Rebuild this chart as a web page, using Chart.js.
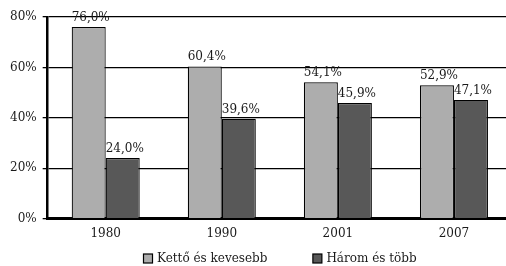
<!DOCTYPE html>
<html><head><meta charset="utf-8">
<script src="https://cdn.jsdelivr.net/npm/chart.js@4/dist/chart.umd.min.js"></script>
<style>html,body{margin:0;padding:0;background:#fff;overflow:hidden;width:506px;height:266px}#w{width:512px;height:266px}</style>
</head><body><div id="w"><canvas id="c"></canvas></div>
<script>
const categories = ['1980', '1990', '2001', '2007'];
const ketto = [76.0, 60.4, 54.1, 52.9];
const harom = [24.0, 39.6, 45.9, 47.1];
const seriesNames = ['Kettő és kevesebb', 'Három és több'];
const yTicks = [0, 20, 40, 60, 80];

const FONT = 'DejaVu Serif';
const TXT = '#1a1a1a';
Chart.defaults.font.family = FONT;
Chart.defaults.font.size = 12;
Chart.defaults.color = TXT;

const fmt = v => v.toFixed(1).replace('.', ',') + '%';

const labelPlugin = {
  id: 'barLabels',
  afterDatasetsDraw(chart) {
    const ctx = chart.ctx;
    ctx.save();
    ctx.font = '12px "' + FONT + '"';
    ctx.fillStyle = TXT;
    ctx.textAlign = 'center';
    ctx.textBaseline = 'alphabetic';
    chart.data.datasets.forEach((ds, i) => {
      chart.getDatasetMeta(i).data.forEach((bar, j) => {
        ctx.fillText(fmt(ds.data[j]), bar.x + 2, bar.y - 6);
      });
    });
    ctx.restore();
  }
};

const legendPlugin = {
  id: 'customLegend',
  afterDraw(chart) {
    const ctx = chart.ctx;
    const area = chart.chartArea;
    const box = 9, gapText = 5, gapItem = 45;
    ctx.save();
    ctx.font = '12px "' + FONT + '"';
    const items = chart.data.datasets.map(ds => ({ text: ds.label, color: ds.backgroundColor, w: ctx.measureText(ds.label).width }));
    let total = 0;
    items.forEach((it, i) => { total += box + gapText + it.w + (i ? gapItem : 0); });
    let x = Math.round((area.left + area.right) / 2 - total / 2);
    const yMid = 258.5;
    items.forEach(it => {
      ctx.fillStyle = it.color;
      ctx.fillRect(x + 0.5, yMid - box / 2, box, box);
      ctx.strokeStyle = '#000';
      ctx.lineWidth = 1.2;
      ctx.strokeRect(x + 0.5, yMid - box / 2, box, box);
      ctx.fillStyle = TXT;
      ctx.textAlign = 'left';
      ctx.textBaseline = 'middle';
      ctx.fillText(it.text, x + box + gapText, yMid + 0.5);
      x += box + gapText + it.w + gapItem;
    });
    ctx.restore();
  }
};

new Chart(document.getElementById('c'), {
  type: 'bar',
  data: {
    labels: categories,
    datasets: [
      { label: seriesNames[0], data: ketto, backgroundColor: '#adadad', borderColor: '#000', borderWidth: 1.2 },
      { label: seriesNames[1], data: harom, backgroundColor: '#585858', borderColor: '#000', borderWidth: 1.2 }
    ]
  },
  options: {
    responsive: true,
    maintainAspectRatio: false,
    animation: false,
    layout: { padding: { top: 17, left: 4, right: 0, bottom: 25 } },
    datasets: { bar: { barPercentage: 1, categoryPercentage: 0.586 } },
    plugins: {
      legend: { display: false },
      tooltip: { enabled: false }
    },
    scales: {
      x: {
        grid: { display: false },
        border: { display: true, color: '#000', width: 3 },
        ticks: { color: TXT, padding: 0 }
      },
      y: {
        min: 0, max: 80,
        afterBuildTicks: ax => { ax.ticks = yTicks.map(v => ({ value: v })); },
        ticks: { callback: v => v + '%', color: TXT, padding: 6 },
        grid: { color: '#000', lineWidth: 1.3, tickLength: 5, drawTicks: true },
        border: { display: true, color: '#000', width: 2.5 }
      }
    }
  },
  plugins: [labelPlugin, legendPlugin]
});
</script></body></html>
